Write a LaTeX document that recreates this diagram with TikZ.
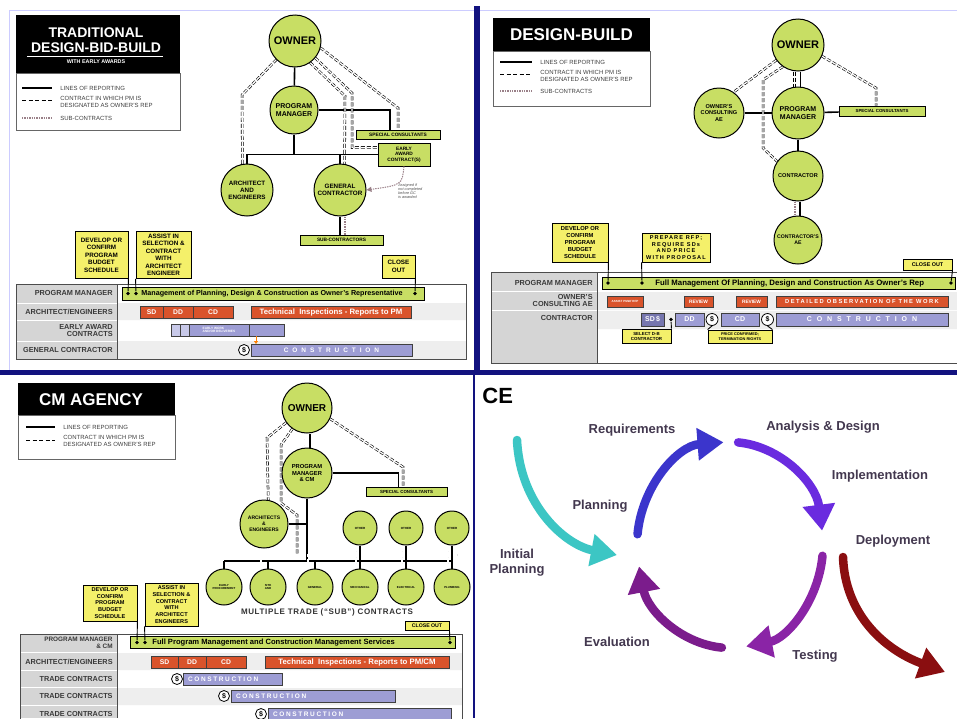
\documentclass[tikz,border=0pt]{standalone}
\usepackage{fontspec}
\setmainfont{Liberation Sans}
\usetikzlibrary{positioning,arrows.meta,calc,backgrounds}
\definecolor{lime}{HTML}{C8DE64}
\definecolor{callout}{HTML}{F4F06A}
\definecolor{brick}{HTML}{D9532B}
\definecolor{lav}{HTML}{9D9DD4}
\definecolor{lavlt}{HTML}{C8C9E9}
\definecolor{lavdk}{HTML}{7676AE}
\definecolor{navy}{HTML}{12127F}
\definecolor{cellgray}{HTML}{D5D5D5}
\definecolor{rowgray}{HTML}{EEEEEE}
\definecolor{labeltxt}{HTML}{3A3A3A}
\definecolor{subc}{HTML}{9A8088}
\definecolor{cetxt}{HTML}{43384F}
\definecolor{reqc}{HTML}{3B35CC}
\definecolor{anac}{HTML}{6A2BDF}
\definecolor{tstc}{HTML}{8A24A6}
\definecolor{evac}{HTML}{7B1C8C}
\definecolor{inic}{HTML}{3CC6C4}
\definecolor{depc}{HTML}{8A0E10}
\newcommand\setfs[2]{\fontsize{#1}{#2}\selectfont}
\tikzset{every picture/.style={line width=0.75pt}}

\begin{document}
\begin{tikzpicture}[x=1pt,y=-1pt,
  circ/.style={circle,draw,line width=1pt,fill=lime,inner sep=0pt,align=center,font=\bfseries\setfs{6.3}{7}},
  ybox/.style={rectangle,draw,line width=0.9pt,fill=callout,inner sep=0pt,align=center,font=\bfseries\setfs{6.3}{7.5}},
  gbox/.style={rectangle,draw,line width=0.9pt,fill=lime,inner sep=0pt,align=center,font=\bfseries\setfs{4.8}{5.6}},
  tbar/.style={rectangle,draw=black!75,line width=0.7pt,inner sep=0pt,outer sep=0pt,minimum height=12},
  redbar/.style={tbar,fill=brick,text=white,font=\bfseries\setfs{6.8}{7}},
  lavbar/.style={tbar,fill=lav,text=white,font=\bfseries\setfs{6.5}{7}\addfontfeature{LetterSpace=60}},
  pmbar/.style={tbar,draw=black,line width=0.9pt,fill=lime,minimum height=13},
  bartxt/.style={anchor=west,inner sep=0pt,font=\bfseries\setfs{7.2}{7.5}},
  dol/.style={circle,draw,line width=0.8pt,fill=white,inner sep=0pt,minimum size=11,font=\bfseries\setfs{7}{7}},
  rowlbl/.style={anchor=east,align=right,inner sep=0pt,text=labeltxt,font=\bfseries\setfs{7.3}{7.6}},
  ttl/.style={text=white,inner sep=0pt},
  legtxt/.style={anchor=west,align=left,inner sep=0pt,text=black!75,font=\setfs{6}{6.2}},
  ldot/.style={circle,fill,inner sep=0pt,minimum size=3.8},
  rep/.style={line width=1.6pt},
  contr/.style={double=white,double distance=1.3pt,line width=0.6pt,dash pattern=on 4pt off 2pt},
  subl/.style={line width=1.8pt,dash pattern=on 1.4pt off 1pt,draw=subc},
  cyc/.style={line width=8.5pt,line cap=round},
  cytip/.style={-{Triangle[width=31pt,length=26pt]}},
  celbl/.style={text=cetxt,font=\bfseries\setfs{13}{15},align=center,inner sep=0pt}
]
\useasboundingbox (0,0) rectangle (957,718);
\begin{scope}[on background layer]
  \fill[white] (0,0) rectangle (957,718);
\end{scope}
% frames
\draw[blue!20,line width=0.6pt] (9,10) -- (474,10) (9,10) -- (9,370) (480,10) -- (957,10);
\fill[navy] (474,6) rectangle (480,372);
\fill[navy] (0,370) rectangle (957,375);
\fill[navy] (472.5,375) rectangle (475,718);

%% ---------- traditional design-bid-build ----------
\fill (16,15) rectangle (180,73);
\node[ttl,font=\bfseries\setfs{14}{14}] (t1a) at (96,33) {TRADITIONAL};
\node[ttl,font=\bfseries\setfs{14}{14}] (t1b) at (96,48) {DESIGN-BID-BUILD};
\draw[white,line width=0.5pt] (27,56) -- (163,56);
\node[ttl,font=\bfseries\setfs{5.4}{5.4}] (t1c) at (96,61.5) {WITH EARLY AWARDS};
\draw[black!60,line width=0.6pt] (16,73) rectangle (180,130);
\node[legtxt] (l1a) at (60,88) {LINES OF REPORTING};
\node[legtxt] (l1b) at (60,102) {CONTRACT IN WHICH PM IS\\DESIGNATED AS OWNER'S REP};
\node[legtxt] (l1c) at (60,118) {SUB-CONTRACTS};
\draw[rep] (22,88) -- (52,88);
\draw[line width=1pt,dash pattern=on 4pt off 2.5pt] (22,100) -- (52,100);
\draw[subl] (22,118) -- (52,118);

\node[circ,minimum size=52,font=\bfseries\setfs{11}{11}] (own1) at (295,41) {OWNER};
\node[circ,minimum size=48,font=\bfseries\setfs{7}{7.6}] (pm1) at (294,110) {PROGRAM\\MANAGER};
\node[circ,minimum size=52] (ae1) at (247,190) {ARCHITECT\\AND\\ENGINEERS};
\node[circ,minimum size=52] (gc1) at (340,190) {GENERAL\\CONTRACTOR};
\node[gbox,minimum width=84,minimum height=9] (sc1) at (398,134.5) {SPECIAL CONSULTANTS};
\node[gbox,minimum width=52,minimum height=23] (ea1) at (404,154.5) {EARLY\\AWARD\\CONTRACT(S)};
\node[gbox,minimum width=83,minimum height=10] (sub1) at (341.5,240) {SUB-CONTRACTORS};
\begin{scope}[on background layer]
  \draw[rep] (own1) -- (pm1);
  \draw[rep] (pm1.east) -| ([xshift=-8pt]sc1.north);
  \draw[rep] (pm1.south) -- (pm1.south |- ea1.west);
  \draw[rep] (ae1.north) |- (ea1.west);
  \draw[rep] (gc1.north) -- (gc1.north |- ea1.west);
  \draw[rep] (gc1.south) -- (gc1.south |- sub1.north);
  \draw[subl] ([xshift=5pt]gc1.south) -- ([xshift=5pt]gc1.south |- sub1.north);
  \draw[contr] (own1.225) -- (242,95) -- (ae1.100);
  \draw[contr] (own1.-15) -- (398,108) -- (sc1.north);
  \draw[contr] (own1.-40) -- (352,93) -- (352,147.5) -- (ea1.165);
  \draw[contr] (own1.-55) -- (345,96) -- (gc1.80);
\end{scope}
\draw[subl,line width=1pt,-{Triangle[width=5pt,length=5pt]}] (ea1.south) .. controls (402,185) .. (gc1.east);
\node[font=\itshape\setfs{3.8}{4.2},align=left,anchor=west,inner sep=0pt,text=black!70] (asg1) at (398,191) {Assigned if\\not completed\\before GC\\is awarded};

\node[ybox,minimum width=53,minimum height=47] (dev1) at (101.5,255) {DEVELOP OR\\CONFIRM\\PROGRAM\\BUDGET\\SCHEDULE};
\node[ybox,minimum width=55,minimum height=47] (asst1) at (163.5,255) {ASSIST IN\\SELECTION \&\\CONTRACT\\WITH\\ARCHITECT\\ENGINEER};
\node[ybox,minimum width=33,minimum height=23] (co1) at (398.5,266.5) {CLOSE\\OUT};

% schedule table
\fill[rowgray] (117,303) rectangle (466,320) (117,341) rectangle (466,359);
\foreach \a/\b in {284/302.5,303.5/319.5,320.5/340.5,341.5/359}
  \fill[cellgray] (16,\a) rectangle (117,\b);
\draw[black!70,line width=1pt] (16,284) rectangle (466,359) (117,284) -- (117,359);
\node[rowlbl] (r1a) at (113,293) {PROGRAM MANAGER};
\node[rowlbl] (r1b) at (113,312) {ARCHITECT/ENGINEERS};
\node[rowlbl] (r1c) at (113,330.5) {EARLY AWARD\\CONTRACTS};
\node[rowlbl] (r1d) at (113,350) {GENERAL CONTRACTOR};

\node[pmbar,minimum width=302] (pmb1) at (273,293.5) {};
\node[bartxt] (pmt1) at (141,293.5) {Management of Planning, Design \& Construction as Owner's Representative};
\node[ldot] (p1a) at (128,293.5) {};
\node[ldot] (p1b) at (136,293.5) {};
\node[ldot] (p1c) at (415,293.5) {};
\draw[line width=0.9pt] (dev1.south east) -- (p1a) (asst1.south west) -- (p1b) (co1.south east) -- (p1c);

\node[redbar,minimum width=23] (sd1) at (151.5,312) {SD};
\node[redbar,minimum width=30,right=0pt of sd1] (dd1) {DD};
\node[redbar,minimum width=40,right=0pt of dd1] (cd1) {CD};
\node[redbar,minimum width=160,font=\bfseries\setfs{7.8}{8}] (ti1) at (331,312) {Technical\ \ Inspections - Reports to PM};

\node[lavbar,fill=lavlt,minimum width=9] (ew1) at (175.5,330) {};
\node[lavbar,fill=lavlt,minimum width=9,right=0pt of ew1] (ew2) {};
\node[lavbar,minimum width=60,right=0pt of ew2,font=\bfseries\setfs{3.2}{3.6},align=left] (ew3) {EARLY WORK\\AND/OR DELIVERIES};
\node[lavbar,minimum width=35,right=0pt of ew3] (ew4) {};
\node[lavbar,minimum width=161] (cons1) at (331.5,350) {CONSTRUCTION};
\node[dol] (dol1) at (244,350) {\$};
\draw[orange,line width=1pt,-{Triangle[width=4pt,length=3pt]}] ([xshift=7pt]ew4.south west) -- ([xshift=7pt]ew4.south west |- cons1.north);

%% ---------- design-build ----------
\fill (493,18) rectangle (650,51);
\node[ttl,font=\bfseries\setfs{17}{17}] (t2a) at (571.5,35) {DESIGN-BUILD};
\draw[black!60,line width=0.6pt] (493,51) rectangle (650,106);
\node[legtxt] (l2a) at (540,62) {LINES OF REPORTING};
\node[legtxt] (l2b) at (540,76) {CONTRACT IN WHICH PM IS\\DESIGNATED AS OWNER'S REP};
\node[legtxt] (l2c) at (540,91) {SUB-CONTRACTS};
\draw[rep] (500,62) -- (532,62);
\draw[line width=1pt,dash pattern=on 4pt off 2.5pt] (500,74) -- (532,74);
\draw[subl] (500,91) -- (532,91);

\node[circ,minimum size=52,font=\bfseries\setfs{11}{11}] (own2) at (798,45) {OWNER};
\node[circ,minimum size=52,font=\bfseries\setfs{7}{7.6}] (pm2) at (798,113) {PROGRAM\\MANAGER};
\node[circ,minimum size=50,font=\bfseries\setfs{5.6}{6.2}] (cae2) at (719,113) {OWNER'S\\CONSULTING\\AE};
\node[gbox,minimum width=86,minimum height=10,font=\bfseries\setfs{4.4}{5}] (sc2) at (882,111) {SPECIAL CONSULTANTS};
\node[circ,minimum size=50,font=\bfseries\setfs{5.6}{6.2}] (cont2) at (798,176) {CONTRACTOR};
\node[circ,minimum size=48,font=\bfseries\setfs{5.2}{6.2}] (ctae2) at (798,240) {CONTRACTOR'S\\AE};
\begin{scope}[on background layer]
  \draw[rep] ([xshift=2.5pt]own2.south) -- ([xshift=2.5pt]pm2.north);
  \draw[contr] ([xshift=-3.5pt]own2.south) -- ([xshift=-3.5pt]pm2.north);
  \draw[rep] (cae2) -- (pm2);
  \draw[rep] (pm2) -- (sc2);
  \draw[rep] (pm2) -- (cont2);
  \draw[rep] ([xshift=2pt]cont2.south) -- ([xshift=2pt]ctae2.north);
  \draw[subl] ([xshift=-3pt]cont2.south) -- ([xshift=-3pt]ctae2.north);
  \draw[contr] (own2.215) -- (cae2.55);
  \draw[contr] (own2.-25) -- (876,88) -- ([xshift=-6pt]sc2.north);
  \draw[contr] (own2.235) -- (763,80) -- (763,148) -- (cont2.145);
\end{scope}

\node[ybox,minimum width=56,minimum height=39,font=\bfseries\setfs{5.8}{6.9}] (dev2) at (580,242.5) {DEVELOP OR\\CONFIRM\\PROGRAM\\BUDGET\\SCHEDULE};
\node[ybox,minimum width=68,minimum height=29,font=\bfseries\setfs{5.6}{6.4}\addfontfeature{LetterSpace=20}] (rfp2) at (676,247.5) {PREPARE RFP;\\REQUIRE SDs\\AND PRICE\\WITH PROPOSAL};
\node[ybox,minimum width=49,minimum height=11,font=\bfseries\setfs{5.4}{6}] (co2) at (927.5,264.5) {CLOSE OUT};

\fill[rowgray] (597,292) rectangle (957,310) (597,311) rectangle (957,329);
\foreach \a/\b in {272/291,292/310,311/363}
  \fill[cellgray] (491,\a) rectangle (597,\b);
\draw[black!70,line width=1pt] (491,272) rectangle (962,363) (597,272) -- (597,363);
\node[rowlbl] (r2a) at (593,283) {PROGRAM MANAGER};
\node[rowlbl] (r2b) at (593,300.5) {OWNER'S\\CONSULTING AE};
\node[rowlbl] (r2c) at (593,318) {CONTRACTOR};

\node[pmbar,minimum width=353,minimum height=12] (pmb2) at (778.5,283) {};
\node[bartxt,font=\bfseries\setfs{7.8}{8}] (pmt2) at (655,283) {Full Management Of Planning, Design and Construction As Owner's Rep};
\node[ldot] (p2a) at (608,283) {};
\node[ldot] (p2b) at (642,283) {};
\node[ldot] (p2c) at (951,283) {};
\draw[line width=0.9pt] (dev2.south east) -- (p2a) (rfp2.south west) -- (p2b) (co2.south east) -- (p2c);

\node[redbar,minimum width=36,minimum height=11,font=\bfseries\setfs{3}{3.2}] (ar2) at (625,301.5) {ASSIST PM\\W/ RFP};
\node[redbar,minimum width=29,minimum height=11,font=\bfseries\setfs{4.8}{5}] (rv2a) at (698.5,301.5) {REVIEW};
\node[redbar,minimum width=31,minimum height=11,font=\bfseries\setfs{4.8}{5}] (rv2b) at (751.5,301.5) {REVIEW};
\node[redbar,minimum width=172,minimum height=11,font=\bfseries\setfs{5.8}{6}\addfontfeature{LetterSpace=25}] (do2) at (862,301.5) {DETAILED OBSERVATION OF THE WORK};

\node[lavbar,fill=lavdk,minimum width=23,minimum height=13,font=\bfseries\setfs{7}{7}] (sd2) at (652.5,319.5) {SD\,\$};
\node[ldot] (p2d) at (671,319.5) {};
\node[lavbar,minimum width=29,minimum height=13,font=\bfseries\setfs{7}{7}] (dd2) at (689.5,319.5) {DD};
\node[dol,minimum size=12] (dol2a) at (712,319.5) {\$};
\node[lavbar,minimum width=38,minimum height=13,font=\bfseries\setfs{7}{7}] (cd2) at (740,319.5) {CD};
\node[dol,minimum size=12] (dol2b) at (767.5,319.5) {\$};
\node[lavbar,minimum width=172,minimum height=13,font=\bfseries\setfs{7}{7}\addfontfeature{LetterSpace=70}] (cons2) at (862,319.5) {CONSTRUCTION};
\node[ybox,minimum width=49,minimum height=14,font=\bfseries\setfs{4.4}{5}] (sel2) at (646.5,336) {SELECT D-B\\CONTRACTOR};
\node[ybox,minimum width=64,minimum height=13,font=\bfseries\setfs{3.9}{4.6}] (pc2) at (740,336.5) {PRICE CONFIRMED;\\TERMINATION RIGHTS};
\draw[line width=0.9pt] (p2d) -- (sel2.north east) (pc2.north west) -- (dol2a.south) (pc2.north east) -- (dol2b.south);

%% ---------- cm agency ----------
\fill (18,383) rectangle (175,415);
\node[ttl,font=\bfseries\setfs{17}{17}] (t3a) at (91,399.5) {CM AGENCY};
\draw[black!60,line width=0.6pt] (18,415) rectangle (175,459);
\node[legtxt] (l3a) at (63,427) {LINES OF REPORTING};
\node[legtxt] (l3b) at (63,441) {CONTRACT IN WHICH PM IS\\DESIGNATED AS OWNER'S REP};
\draw[rep] (26,427) -- (55,427);
\draw[line width=1pt,dash pattern=on 4pt off 2.5pt] (26,440) -- (55,440);

\node[circ,minimum size=50,font=\bfseries\setfs{10}{10}] (own3) at (307,408) {OWNER};
\node[circ,minimum size=50,font=\bfseries\setfs{5.8}{6.4}] (pm3) at (307,473) {PROGRAM\\MANAGER\\\& CM};
\node[gbox,minimum width=81,minimum height=9,font=\bfseries\setfs{4.4}{5}] (sc3) at (406.5,491.5) {SPECIAL CONSULTANTS};
\node[circ,minimum size=48,font=\bfseries\setfs{5}{6}] (ae3) at (264,524) {ARCHITECTS\\\&\\ENGINEERS};
\foreach \n/\x in {oth1/360,oth2/406,oth3/452}
  \node[circ,minimum size=34,font=\bfseries\setfs{3}{3.4}] (\n) at (\x,528) {OTHER};
\foreach \n/\x/\t in {ep3/224/EARLY\\PROCUREMENT,sf3/268/SITE\\AND/OR\\FOUNDATION,gen3/315/GENERAL,mech3/360/MECHANICAL,elec3/406/ELECTRICAL,plum3/452/PLUMBING}
  \node[circ,minimum size=36,font=\bfseries\setfs{2.9}{3.4}] (\n) at (\x,587) {\t};
\coordinate (sbus) at (0,561);
\coordinate (cbus) at (0,555);
\begin{scope}[on background layer]
  \draw[rep] ([xshift=3pt]own3.south) -- ([xshift=3pt]pm3.north);
  \draw[contr] ([xshift=-3pt]own3.south) -- ([xshift=-3pt]pm3.north);
  \draw[rep] (pm3.east) -| ([xshift=-8pt]sc3.north);
  \draw[contr] (own3.-25) -- (403,467) -- ([xshift=-3.5pt]sc3.north);
  \draw[contr] (own3.215) -- (267,438) -- (ae3.80);
  \draw[contr] (own3.235) -- (281,445) -- (281,503) -- (297,515) -- (297,555);
  \draw[rep] (pm3.south) -- (pm3.south |- sbus);
  \draw[rep] (ae3.east) -- (ae3.east -| pm3.south);
  \draw[rep] (ep3.north |- sbus) -- (plum3.north |- sbus);
  \draw[contr] ([xshift=-7pt]ep3.north |- cbus) -- ([xshift=5pt]plum3.north |- cbus);
  \foreach \n in {ep3,sf3,gen3} {
    \draw[rep] (\n.north) -- (\n.north |- sbus);
    \draw[contr] ([xshift=-7pt]\n.north) -- ([xshift=-7pt]\n.north |- cbus);
  }
  \foreach \a/\b in {oth1/mech3,oth2/elec3,oth3/plum3} {
    \draw[rep] (\a) -- (\b);
    \draw[contr] ([xshift=-4pt]\a.south) -- ([xshift=-4pt]\b.north);
  }
\end{scope}
\node[font=\bfseries\setfs{8}{8}\addfontfeature{LetterSpace=8},text=black!80,inner sep=0pt] (mtc3) at (327,612) {MULTIPLE TRADE (``SUB'') CONTRACTS};

\node[ybox,minimum width=54,minimum height=36,font=\bfseries\setfs{5.6}{6.8}] (dev3) at (110,603) {DEVELOP OR\\CONFIRM\\PROGRAM\\BUDGET\\SCHEDULE};
\node[ybox,minimum width=53,minimum height=43,font=\bfseries\setfs{5.6}{6.8}] (asst3) at (171.5,604.5) {ASSIST IN\\SELECTION \&\\CONTRACT\\WITH\\ARCHITECT\\ENGINEERS};
\node[ybox,minimum width=44,minimum height=9,font=\bfseries\setfs{5.2}{5.6}] (co3) at (427,625.5) {CLOSE OUT};

\fill[rowgray] (117,653) rectangle (462,670) (117,688) rectangle (462,705);
\foreach \a/\b in {634/652,653/670,671/687,688/705,706/718}
  \fill[cellgray] (20,\a) rectangle (117,\b);
\draw[black!70,line width=1pt] (20,634) rectangle (462,722) (117,634) -- (117,718);
\node[rowlbl,font=\bfseries\setfs{6.4}{6.6}] (r3a) at (113,643) {PROGRAM MANAGER\\\& CM};
\node[rowlbl] (r3b) at (113,662) {ARCHITECT/ENGINEERS};
\node[rowlbl] (r3c) at (113,679) {TRADE CONTRACTS};
\node[rowlbl] (r3d) at (113,696) {TRADE CONTRACTS};
\node[rowlbl] (r3e) at (113,714) {TRADE CONTRACTS};

\node[pmbar,minimum width=325,minimum height=12] (pmb3) at (292.5,642.5) {};
\node[bartxt,font=\bfseries\setfs{7.6}{8}] (pmt3) at (152,642.5) {Full Program Management and Construction Management Services};
\node[ldot] (p3a) at (137,642.5) {};
\node[ldot] (p3b) at (145,642.5) {};
\node[ldot] (p3c) at (450,642.5) {};
\draw[line width=0.9pt] (dev3.south east) -- (p3a) (asst3.south west) -- (p3b) (co3.south east) -- (p3c);

\node[redbar,minimum width=27] (sd3) at (164.5,662) {SD};
\node[redbar,minimum width=28,right=0pt of sd3] (dd3) {DD};
\node[redbar,minimum width=40,right=0pt of dd3] (cd3) {CD};
\node[redbar,minimum width=184,font=\bfseries\setfs{7.8}{8}] (ti3) at (357,662) {Technical\ \ Inspections - Reports to PM/CM};

\tikzset{lavleft/.style={lavbar,align=left,inner xsep=5pt,text width=#1,font=\bfseries\setfs{6.5}{7}\addfontfeature{LetterSpace=25}}}
\node[lavleft=89] (cons3a) at (232.5,679) {CONSTRUCTION};
\node[dol] (dol3a) at (177,679) {\$};
\node[lavleft=154] (cons3b) at (313,696) {CONSTRUCTION};
\node[dol] (dol3b) at (224,696) {\$};
\node[lavleft=173] (cons3c) at (359.5,714) {CONSTRUCTION};
\node[dol] (dol3c) at (261,714) {\$};

%% ---------- CE ----------
\node[anchor=west,inner sep=0pt,font=\bfseries\setfs{22}{22}] (ce) at (482,396) {CE};
\coordinate (cyc) at (730,545);
\draw[cyc,cytip,reqc] ([shift={(186:93 and 103)}]cyc) arc[start angle=186,end angle=266,x radius=93,y radius=103];
\draw[cyc,cytip,anac] ([shift={(275:93 and 103)}]cyc) arc[start angle=275,end angle=352,x radius=93,y radius=103];
\draw[cyc,cytip,tstc] ([shift={(6:93 and 103)}]cyc) arc[start angle=6,end angle=80,x radius=93,y radius=103];
\draw[cyc,cytip,evac] ([shift={(95:93 and 103)}]cyc) arc[start angle=95,end angle=168,x radius=93,y radius=103];
\draw[cyc,cytip,inic] (517,440) .. controls (520,505) and (565,545) .. (617,555);
\draw[cyc,cytip,depc] (843,557) .. controls (845,615) and (885,650) .. (945,672);
\node[celbl] (req) at (632,430) {Requirements};
\node[celbl] (ana) at (823,427) {Analysis \& Design};
\node[celbl] (imp) at (880,476) {Implementation};
\node[celbl] (pln) at (600,506) {Planning};
\node[celbl] (dep) at (893,541) {Deployment};
\node[celbl] (ini) at (517,563) {Initial\\Planning};
\node[celbl] (eva) at (617,642) {Evaluation};
\node[celbl] (tst) at (815,656) {Testing};
\end{tikzpicture}
\end{document}
